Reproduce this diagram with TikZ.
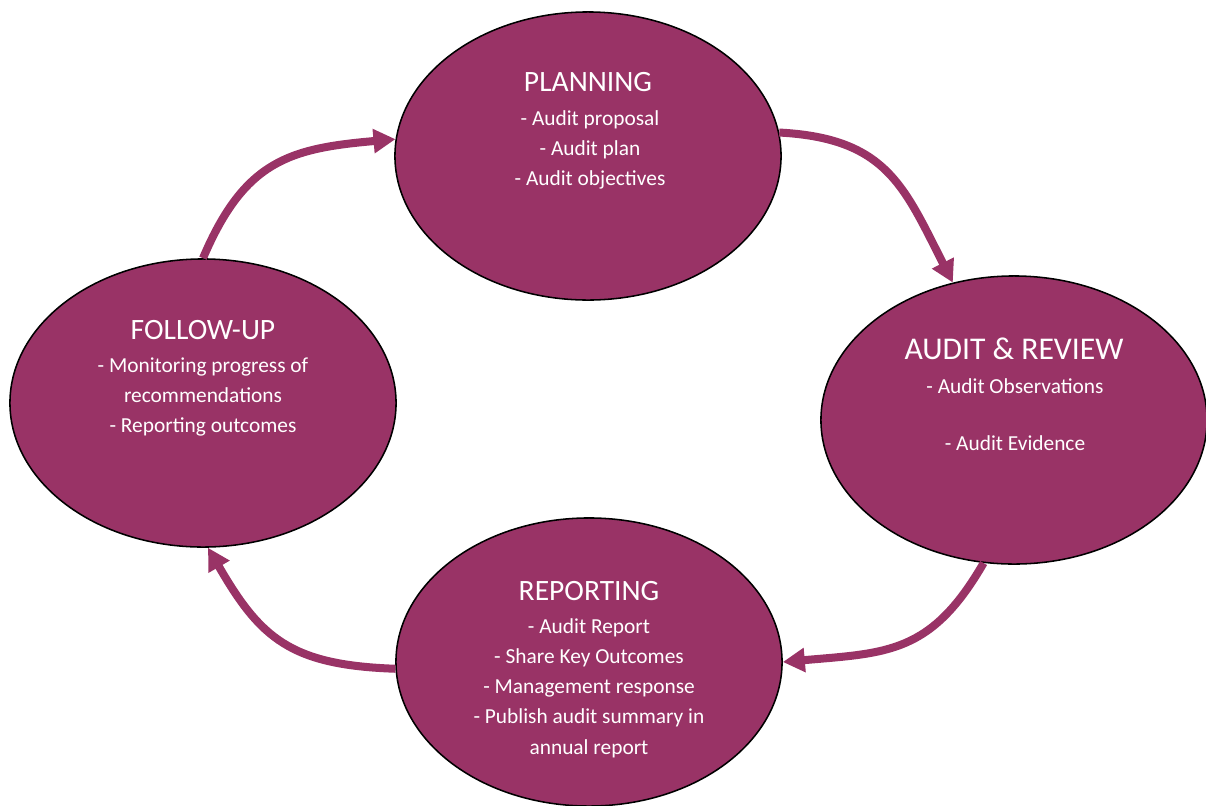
\documentclass[tikz,border=0pt]{standalone}
\usepackage{fontspec}
\setmainfont{Carlito}
\usepackage{xcolor}
\usepackage{tikz}
\definecolor{plum}{HTML}{993366}
\usetikzlibrary{shapes,arrows.meta,positioning}

\begin{document}
\begin{tikzpicture}[x=0.025cm, y=-0.025cm, >={Triangle[length=0.55cm,width=0.58cm]},
    phase/.style={ellipse, draw=black, line width=1.1pt, fill=plum, minimum width=9.65cm, minimum height=7.2cm, inner sep=0pt},
    phasetitle/.style={text=white, font=\fontsize{21}{25}\selectfont},
    phasetext/.style={text=white, align=center, font=\fontsize{15.2}{21.5}\selectfont},
    flow/.style={->, draw=plum, line width=5.7pt, looseness=1.2}]
    \useasboundingbox (0,0) rectangle (1206,805);

    % the four stages
    \node[phase] (plan) at (588,156) {};
    \node[phase] (audit) at (1014,420) {};
    \node[phase] (report) at (589,662) {};
    \node[phase] (follow) at (203,403) {};

    \node[phasetitle] (plantitle) at (588,82) {PLANNING};
    \node[phasetext] (planbody) at (590,150) {- Audit proposal\\- Audit plan\\- Audit objectives};

    \node[phasetitle, font=\fontsize{22.5}{26}\selectfont] (audittitle) at (1014,349) {AUDIT \& REVIEW};
    \node[phasetext] (auditbody) at (1015,415) {- Audit Observations\\[19pt]- Audit Evidence};

    \node[phasetitle] (reporttitle) at (589,591) {REPORTING};
    \node[phasetext] (reportbody) at (589,688) {- Audit Report\\- Share Key Outcomes\\- Management response\\- Publish audit summary in\\annual report};

    \node[phasetitle] (followtitle) at (203,330) {FOLLOW-UP};
    \node[phasetext] (followbody) at (203,397) {- Monitoring progress of\\recommendations\\- Reporting outcomes};

    % cycle
    \draw[flow] (follow.north) to[out=67, in=185] (plan.175);
    \draw[flow] (plan.7) to[out=-3, in=117] (audit.114);
    \draw[flow] (audit.258) to[out=240, in=5] (report.east);
    \draw[flow] (report.182) to[out=178, in=-60] (follow.-88);
\end{tikzpicture}
\end{document}
